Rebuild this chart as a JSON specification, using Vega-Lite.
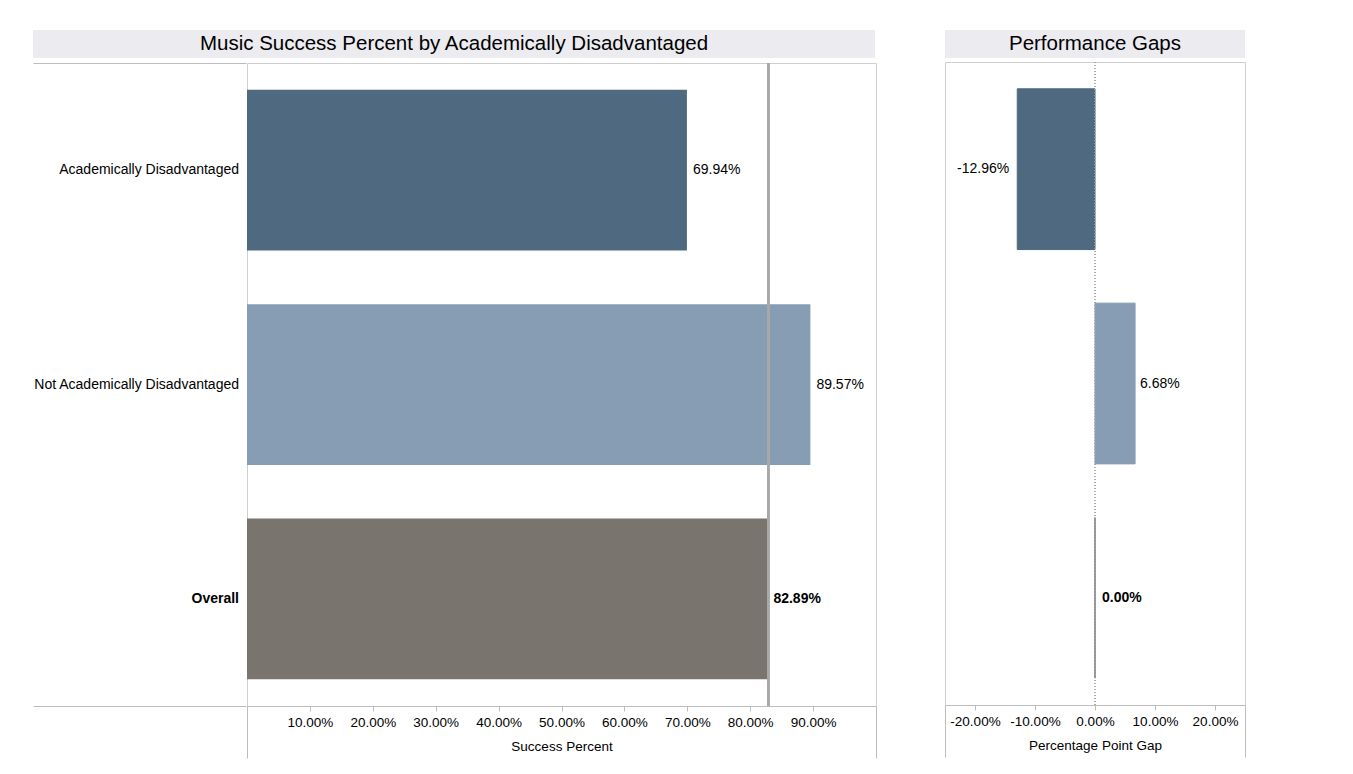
{
  "$schema": "https://vega.github.io/schema/vega-lite/v6.json",
  "padding": {"left": 33, "top": 30, "right": 0, "bottom": 0},
  "background": "white",
  "config": {
    "font": "Liberation Sans",
    "view": {"stroke": "#cfcfcf"},
    "locale": {"number": {"decimal": ".", "thousands": ",", "grouping": [3], "currency": ["$", ""], "minus": "-"}}
  },
  "datasets": {
    "rows": [
      {"group": "Academically Disadvantaged", "pct": 0.6994, "gap": -0.1296},
      {"group": "Not Academically Disadvantaged", "pct": 0.8957, "gap": 0.0668},
      {"group": "Overall", "pct": 0.8289, "gap": 0.0}
    ]
  },
  "spacing": 67,
  "hconcat": [
    {
      "spacing": 3,
      "vconcat": [
        {
          "width": 842,
          "height": 28,
          "view": {"stroke": null},
          "data": {"values": [{"t": "Music Success Percent by Academically Disadvantaged"}]},
          "layer": [
            {"mark": {"type": "rect", "color": "#ebebf0"}, "encoding": {}},
            {"mark": {"type": "text", "fontSize": 20.5, "color": "#000000"}, "encoding": {"text": {"field": "t"}}}
          ]
        },
        {
          "spacing": 0,
          "hconcat": [
            {
              "width": 213,
              "height": 643,
              "view": {"stroke": null},
              "data": {"name": "rows"},
              "encoding": {
                "y": {
                  "field": "group",
                  "type": "nominal",
                  "sort": null,
                  "scale": {"paddingInner": 0.25, "paddingOuter": 0.125},
                  "axis": null
                }
              },
              "layer": [
                {
                  "transform": [{"filter": "datum.group !== 'Overall'"}],
                  "mark": {"type": "text", "align": "right", "dx": -7, "fontSize": 14, "color": "#000000"},
                  "encoding": {
                    "x": {"datum": 1, "type": "quantitative", "scale": {"domain": [0, 1], "nice": false},
                      "axis": {"orient": "bottom", "labels": false, "ticks": false, "grid": false, "title": null, "domainColor": "#bdbdbd"}},
                    "text": {"field": "group"}
                  }
                },
                {
                  "transform": [{"filter": "datum.group === 'Overall'"}],
                  "mark": {"type": "text", "align": "right", "dx": -7, "fontSize": 14, "fontWeight": "bold", "color": "#000000"},
                  "encoding": {
                    "x": {"datum": 1, "type": "quantitative", "axis": null},
                    "text": {"field": "group"}
                  }
                },
                {
                  "mark": {"type": "rule", "opacity": 0},
                  "encoding": {
                    "x": {"datum": 0, "type": "quantitative",
                      "axis": {"orient": "top", "labels": false, "ticks": false, "grid": false, "title": null, "domainColor": "#bdbdbd"}},
                    "y": null
                  }
                }
              ],
              "resolve": {"axis": {"x": "independent"}}
            },
            {
              "width": 629,
              "height": 643,
              "data": {"name": "rows"},
              "encoding": {
                "y": {
                  "field": "group",
                  "type": "nominal",
                  "sort": null,
                  "scale": {"paddingInner": 0.25, "paddingOuter": 0.125},
                  "axis": null
                }
              },
              "layer": [
                {
                  "mark": {"type": "bar"},
                  "encoding": {
                    "x": {
                      "field": "pct",
                      "type": "quantitative",
                      "scale": {"domain": [0, 1], "nice": false},
                      "axis": {
                        "values": [0, 0.1, 0.2, 0.3, 0.4, 0.5, 0.6, 0.7, 0.8, 0.9, 1],
                        "format": ".2%",
                        "labelExpr": "(datum.value >= 0.99 || datum.value <= 0.01) ? '' : datum.label",
                        "title": "Success Percent",
                        "grid": false,
                        "domainColor": "#bdbdbd",
                        "tickColor": "#bdbdbd",
                        "tickSize": {"condition": {"test": "datum.value >= 0.99 || datum.value <= 0.01", "value": 52}, "value": 5},
                        "labelPadding": 4,
                        "labelFontSize": 13.5,
                        "labelColor": "#000000",
                        "titleFontSize": 13.5,
                        "titleFontWeight": "normal",
                        "titleColor": "#000000",
                        "titlePadding": -19
                      }
                    },
                    "color": {
                      "field": "group",
                      "type": "nominal",
                      "scale": {"domain": ["Academically Disadvantaged", "Not Academically Disadvantaged", "Overall"], "range": ["#4f6a80", "#879db3", "#79746e"]},
                      "legend": null
                    }
                  }
                },
                {
                  "mark": {"type": "rule", "color": "#a8a8a8", "strokeWidth": 2.5},
                  "encoding": {"x": {"datum": 0.8289}, "y": null}
                },
                {
                  "transform": [{"filter": "datum.group !== 'Overall'"}],
                  "mark": {"type": "text", "align": "left", "dx": 6, "fontSize": 14, "color": "#000000"},
                  "encoding": {"x": {"field": "pct", "type": "quantitative"}, "text": {"field": "pct", "type": "quantitative", "format": ".2%"}}
                },
                {
                  "transform": [{"filter": "datum.group === 'Overall'"}],
                  "mark": {"type": "text", "align": "left", "dx": 5, "fontSize": 14, "fontWeight": "bold", "color": "#000000"},
                  "encoding": {"x": {"field": "pct", "type": "quantitative"}, "text": {"field": "pct", "type": "quantitative", "format": ".2%"}}
                }
              ]
            }
          ]
        }
      ]
    },
    {
      "spacing": 3,
      "vconcat": [
        {
          "width": 300,
          "height": 28,
          "view": {"stroke": null},
          "data": {"values": [{"t": "Performance Gaps"}]},
          "layer": [
            {"mark": {"type": "rect", "color": "#ebebf0"}, "encoding": {}},
            {"mark": {"type": "text", "fontSize": 20.5, "color": "#000000"}, "encoding": {"text": {"field": "t"}}}
          ]
        },
        {
          "width": 300,
          "height": 643,
          "data": {"name": "rows"},
          "encoding": {
            "y": {
              "field": "group",
              "type": "nominal",
              "sort": null,
              "scale": {"paddingInner": 0.25, "paddingOuter": 0.125},
              "axis": null
            }
          },
          "layer": [
            {
              "mark": {"type": "bar", "strokeWidth": 1},
              "encoding": {
                "x": {
                  "field": "gap",
                  "type": "quantitative",
                  "scale": {"domain": [-0.25, 0.25], "nice": false},
                  "axis": {
                    "values": [-0.25, -0.2, -0.1, 0, 0.1, 0.2, 0.25],
                    "format": ".2%",
                    "labelExpr": "abs(datum.value) > 0.24 ? '' : datum.label",
                    "title": "Percentage Point Gap",
                    "grid": false,
                    "domainColor": "#bdbdbd",
                    "tickColor": "#bdbdbd",
                    "tickSize": {"condition": {"test": "abs(datum.value) > 0.24", "value": 52}, "value": 5},
                    "labelPadding": 4,
                    "labelFontSize": 13.5,
                    "labelColor": "#000000",
                    "titleFontSize": 13.5,
                    "titleFontWeight": "normal",
                    "titleColor": "#000000",
                    "titlePadding": -19
                  }
                },
                "color": {
                  "field": "group",
                  "type": "nominal",
                  "scale": {"domain": ["Academically Disadvantaged", "Not Academically Disadvantaged", "Overall"], "range": ["#4f6a80", "#879db3", "#79746e"]},
                  "legend": null
                },
                "stroke": {
                  "field": "group",
                  "type": "nominal",
                  "scale": {"domain": ["Academically Disadvantaged", "Not Academically Disadvantaged", "Overall"], "range": ["#4f6a80", "#879db3", "#79746e"]},
                  "legend": null
                }
              }
            },
            {
              "mark": {"type": "rule", "color": "#a0a0a0", "strokeWidth": 1, "strokeDash": [1, 2]},
              "encoding": {"x": {"datum": 0}, "y": null}
            },
            {
              "transform": [{"filter": "datum.gap < 0"}],
              "mark": {"type": "text", "align": "right", "dx": -8, "fontSize": 14, "color": "#000000"},
              "encoding": {"x": {"field": "gap", "type": "quantitative"}, "text": {"field": "gap", "type": "quantitative", "format": ".2%"}}
            },
            {
              "transform": [{"filter": "datum.gap > 0"}],
              "mark": {"type": "text", "align": "left", "dx": 5, "fontSize": 14, "color": "#000000"},
              "encoding": {"x": {"field": "gap", "type": "quantitative"}, "text": {"field": "gap", "type": "quantitative", "format": ".2%"}}
            },
            {
              "transform": [{"filter": "datum.gap === 0"}],
              "mark": {"type": "text", "align": "left", "dx": 7, "fontSize": 14, "fontWeight": "bold", "color": "#000000"},
              "encoding": {"x": {"field": "gap", "type": "quantitative"}, "text": {"field": "gap", "type": "quantitative", "format": ".2%"}}
            }
          ]
        }
      ]
    }
  ]
}
